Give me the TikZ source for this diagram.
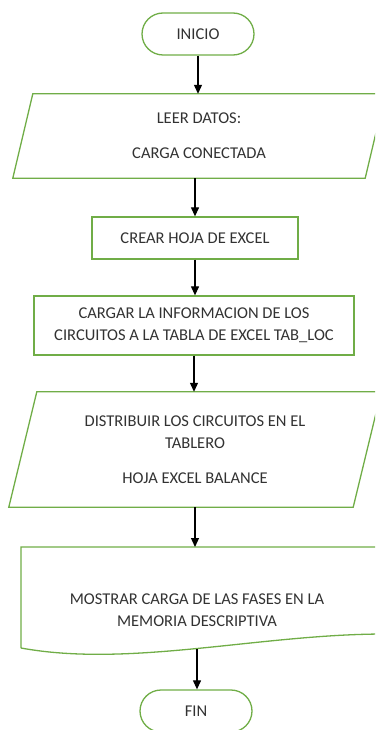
\documentclass[tikz,border=0pt]{standalone}
\usepackage{fontspec}
\setmainfont{Carlito}
\usetikzlibrary{arrows.meta,calc}
\definecolor{vborde}{RGB}{112,173,71}
\definecolor{gtexto}{RGB}{50,50,50}
\tikzset{flujo/.style={x=1pt,y=-1pt,font=\fontsize{16.5}{21.5}\selectfont,text=gtexto}}
\tikzset{borde/.style={vborde,line width=1.3pt},
         caja/.style={draw=vborde,line width=1.3pt,minimum height=42pt,align=center,inner sep=0pt},
         term/.style={caja,rounded corners=21pt,minimum width=112pt},
         bloque/.style={align=center,inner sep=0pt},
         flecha/.style={black,line width=1.2pt,-{Triangle[width=8pt,length=9pt]}}}

\begin{document}
\begin{tikzpicture}[flujo]
    \useasboundingbox (0,0) rectangle (375,730);
    \clip (0,0) rectangle (375,730);
    \node[term] (inicio) at (198,34) {INICIO};
    \node[bloque,minimum width=352pt,minimum height=84pt] (leer) at (199,136) {LEER DATOS:\\[13.5pt]CARGA CONECTADA};
    \draw[borde] ($(leer.north west)+(10,0)$) -- ($(leer.north east)+(10,0)$)
        -- ($(leer.south east)+(-10,0)$) -- ($(leer.south west)+(-10,0)$) -- cycle;
    \node[caja,minimum width=206pt] (crear) at (195,238) {CREAR HOJA DE EXCEL};
    \node[caja,minimum width=320pt,minimum height=59pt] (cargar) at (194,325.5)
        {CARGAR LA INFORMACION DE LOS\\CIRCUITOS A LA TABLA DE EXCEL TAB\_LOC};
    \node[bloque,minimum width=344pt,minimum height=115pt] (distrib) at (195,449.5)
        {DISTRIBUIR LOS CIRCUITOS EN EL\\TABLERO\\[13.5pt]HOJA EXCEL BALANCE};
    \draw[borde] ($(distrib.north west)+(14,0)$) -- ($(distrib.north east)+(14,0)$)
        -- ($(distrib.south east)+(-14,0)$) -- ($(distrib.south west)+(-14,0)$) -- cycle;
    % documento
    \node[bloque] (mostrar) at (197,610) {MOSTRAR CARGA DE LAS FASES EN LA\\MEMORIA DESCRIPTIVA};
    \draw[borde] (21,648) -- (21,547) -- (385,547) -- (385,634)
        .. controls (260,634) and (130,668) .. (21,648);
    \coordinate (mostrarpie) at (197,649);
    \node[term] (fin) at (196,711) {FIN};
    % conectores
    \draw[flecha] (inicio.south) -- (inicio.south |- leer.north);
    \draw[flecha] (crear.north |- leer.south) -- (crear.north);
    \draw[flecha] (crear.south) -- (crear.south |- cargar.north);
    \draw[flecha] (cargar.south) -- (cargar.south |- distrib.north);
    \draw[flecha] (distrib.south) -- (distrib.south |- 0,547);
    \draw[flecha] (mostrarpie) -- (mostrarpie |- fin.north);
\end{tikzpicture}
\end{document}
